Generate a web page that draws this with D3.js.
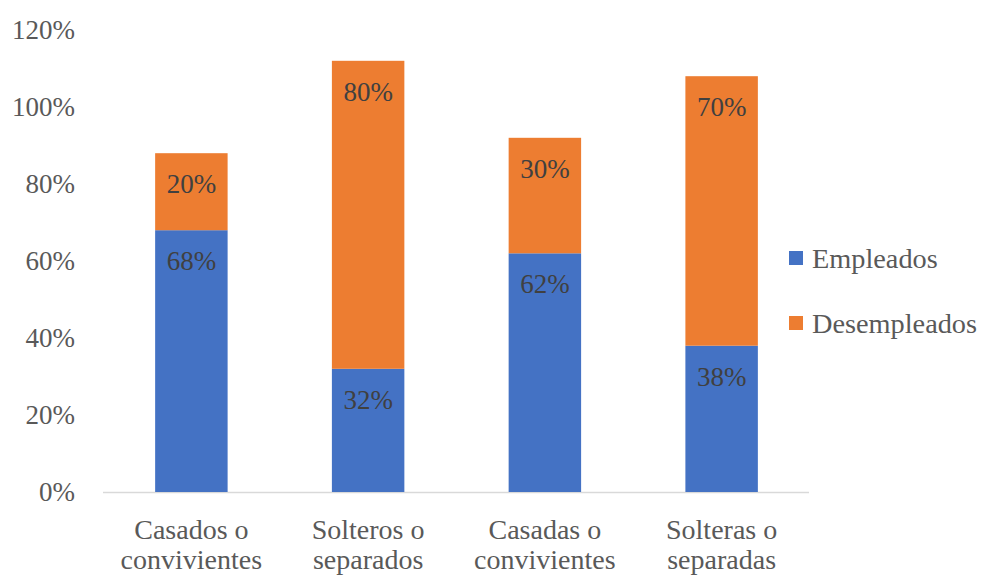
<!DOCTYPE html>
<html><head><meta charset="utf-8">
<script src="https://cdn.jsdelivr.net/npm/d3@7"></script>
<style>body{margin:0;background:#fff} svg text{font-family:"Liberation Serif","Times New Roman",Times,serif;}</style>
</head><body>
<svg id="chart" width="985" height="576"></svg>
<script>
const categories = [["Casados o","convivientes"],["Solteros o","separados"],["Casadas o","convivientes"],["Solteras o","separadas"]];
const seriesNames = ["Empleados","Desempleados"];
const empleados = [0.68,0.32,0.62,0.38];
const desempleados = [0.20,0.80,0.30,0.70];
const yTicks = [0,0.2,0.4,0.6,0.8,1.0,1.2];
const colors = ["#4472C4","#ED7D31"];

const svg = d3.select("#chart");
const x = d3.scaleBand().domain(d3.range(categories.length)).range([103,810]).paddingInner(0.59).paddingOuter(0.295);
const y = d3.scaleLinear().domain([0,1.2]).range([492,30]);

const data = categories.map((c,i)=>({i, vals:[empleados[i],desempleados[i]]}));
const stack = d3.stack().keys([0,1]).value((d,k)=>d.vals[k]);
const stacked = stack(data);

svg.append("line").attr("x1",103).attr("x2",809).attr("y1",y(0)+0.5).attr("y2",y(0)+0.5).attr("stroke","#d9d9d9").attr("stroke-width",1.3);

svg.append("g").selectAll("text").data(yTicks).join("text")
  .attr("x",75).attr("y",d=>y(d)).attr("dy","0.35em").attr("text-anchor","end")
  .attr("font-size",27).attr("fill","#595959")
  .text(d=>d3.format(".0%")(d));

stacked.forEach((layer,k)=>{
  svg.append("g").selectAll("rect").data(layer).join("rect")
    .attr("x",d=>x(d.data.i)).attr("width",x.bandwidth())
    .attr("y",d=>y(d[1])).attr("height",d=>y(d[0])-y(d[1]))
    .attr("fill",colors[k]);
  svg.append("g").selectAll("text").data(layer).join("text")
    .attr("x",d=>x(d.data.i)+x.bandwidth()/2).attr("y",d=>y(d[1])+40)
    .attr("text-anchor","middle").attr("font-size",27).attr("fill","#404040")
    .text(d=>d3.format(".0%")(d.data.vals[k]));
});

const cg = svg.append("g").selectAll("text").data(categories).join("text")
  .attr("text-anchor","middle").attr("font-size",28).attr("fill","#595959");
cg.each(function(d,i){
  const t=d3.select(this);
  d.forEach((line,j)=>t.append("tspan").attr("x",x(i)+x.bandwidth()/2).attr("y",539+j*30).text(line));
});

const lg = svg.append("g").selectAll("g").data(seriesNames).join("g")
  .attr("transform",(d,i)=>`translate(789,${251+i*65})`);
lg.append("rect").attr("width",14).attr("height",14).attr("fill",(d,i)=>colors[i]);
lg.append("text").attr("x",23).attr("y",7).attr("dy","0.35em").attr("font-size",28.3).attr("fill","#595959").text(d=>d);
</script>
</body></html>
